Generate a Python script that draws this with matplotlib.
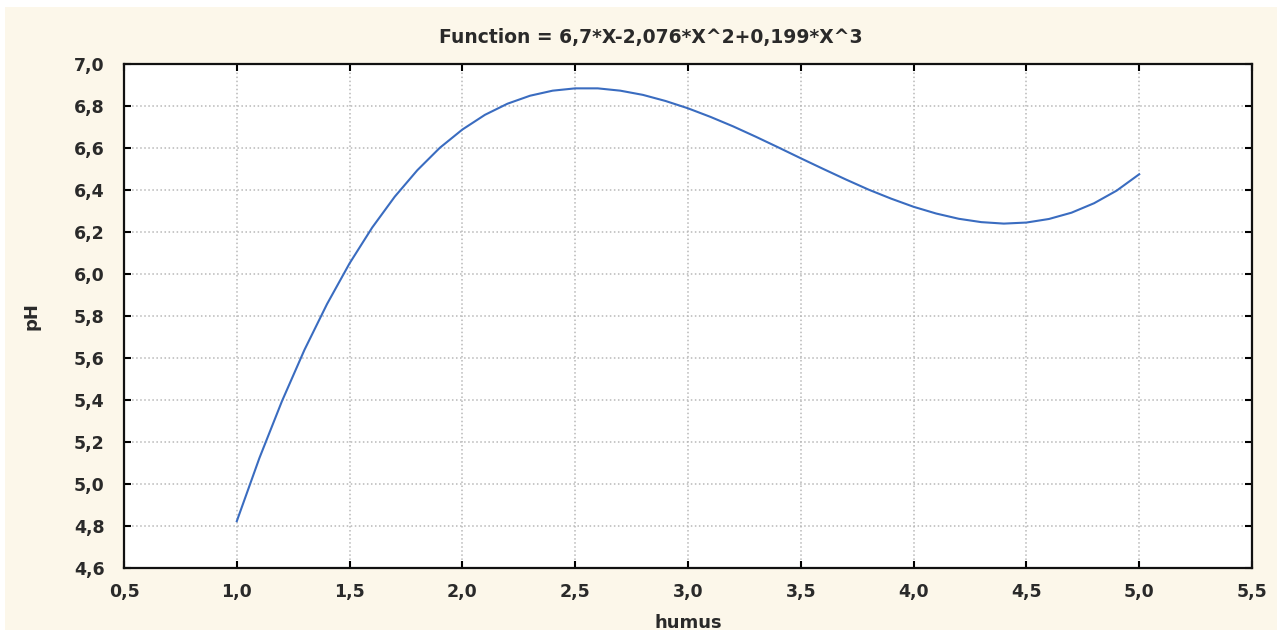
import matplotlib.pyplot as plt
from matplotlib.patches import Rectangle

# values (humus vs pH)
humus = [1.0, 1.1, 1.2, 1.3, 1.4, 1.5, 1.6, 1.7, 1.8, 1.9,
         2.0, 2.1, 2.2, 2.3, 2.4, 2.5, 2.6, 2.7, 2.8, 2.9,
         3.0, 3.1, 3.2, 3.3, 3.4, 3.5, 3.6, 3.7, 3.8, 3.9,
         4.0, 4.1, 4.2, 4.3, 4.4, 4.5, 4.6, 4.7, 4.8, 4.9, 5.0]
ph = [4.823, 5.123, 5.394, 5.639, 5.857, 6.051, 6.221, 6.368, 6.494, 6.601,
      6.688, 6.758, 6.811, 6.849, 6.873, 6.884, 6.884, 6.873, 6.853, 6.824,
      6.789, 6.748, 6.703, 6.654, 6.603, 6.551, 6.500, 6.450, 6.402, 6.359,
      6.320, 6.288, 6.263, 6.247, 6.240, 6.245, 6.262, 6.292, 6.337, 6.397, 6.475]

xticks = [0.5, 1.0, 1.5, 2.0, 2.5, 3.0, 3.5, 4.0, 4.5, 5.0, 5.5]
yticks = [4.6, 4.8, 5.0, 5.2, 5.4, 5.6, 5.8, 6.0, 6.2, 6.4, 6.6, 6.8, 7.0]

plt.rcParams['font.family'] = ['DejaVu Sans']
plt.rcParams['font.weight'] = 'bold'

fig = plt.figure(figsize=(12.82, 6.37), dpi=100, facecolor='white')
# cream panel behind the plot
fig.patches.append(Rectangle((5 / 1282, 7 / 637), 1272 / 1282, 623 / 637,
                             transform=fig.transFigure, facecolor='#fcf7ea',
                             edgecolor='none', zorder=-10))

ax = fig.add_axes([124 / 1282, 1 - 568 / 637, 1128 / 1282, 504 / 637])
ax.set_zorder(1)
ax.set_facecolor('white')
ax.plot(humus, ph, color='#3a6cc0', linewidth=1.5)

ax.set_xlim(0.5, 5.5)
ax.set_ylim(4.6, 7.0)
ax.set_xticks(xticks)
ax.set_yticks(yticks)
ax.set_xticklabels([f'{v:.1f}'.replace('.', ',') for v in xticks])
ax.set_yticklabels([f'{v:.1f}'.replace('.', ',') for v in yticks])
ax.tick_params(direction='in', length=5, width=1.5, labelsize=12.5,
               top=True, right=True, labelcolor='#2a2a2a')
ax.tick_params(axis='x', pad=11)
ax.tick_params(axis='y', pad=14)
ax.grid(True, color='#b8b8b8', linestyle=':', linewidth=1.1)
for s in ax.spines.values():
    s.set_linewidth(1.6)
    s.set_color('#111111')

fig.text(651 / 1282, 1 - 37 / 637, 'Function = 6,7*X-2,076*X^2+0,199*X^3',
         fontsize=13.5, fontweight='bold', color='#2a2a2a', ha='center', va='center')
ax.set_xlabel('humus', fontsize=13, fontweight='bold', color='#2a2a2a', labelpad=9)
ax.set_ylabel('pH', fontsize=13, fontweight='bold', color='#2a2a2a', labelpad=24)

fig.savefig('out.png', dpi=100, facecolor=fig.get_facecolor())
